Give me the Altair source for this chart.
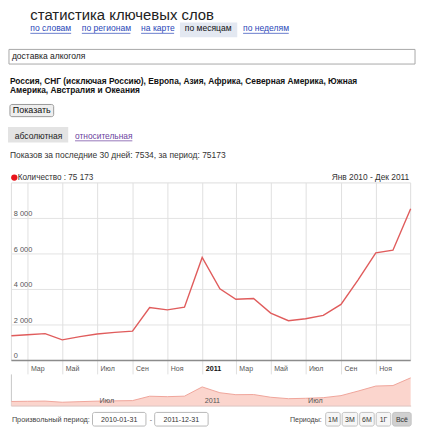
import altair as alt
import pandas as pd

# ---------------- data ----------------
months = ["2010-01", "2010-02", "2010-03", "2010-04", "2010-05", "2010-06",
          "2010-07", "2010-08", "2010-09", "2010-10", "2010-11", "2010-12",
          "2011-01", "2011-02", "2011-03", "2011-04", "2011-05", "2011-06",
          "2011-07", "2011-08", "2011-09", "2011-10", "2011-11", "2011-12"]
counts = [1390, 1450, 1510, 1160, 1340, 1490, 1580, 1650, 2980, 2850, 3000, 5800,
          4040, 3450, 3490, 2670, 2240, 2350, 2540, 3160, 4540, 6060, 6210, 8540]
grid_dates = ["2010-03-01", "2010-05-01", "2010-07-01", "2010-09-01", "2010-11-01",
              "2011-01-01", "2011-03-01", "2011-05-01", "2011-07-01", "2011-09-01",
              "2011-11-01"]
grid_labels = ["Мар", "Май", "Июл", "Сен", "Ноя", "2011", "Мар", "Май", "Июл", "Сен", "Ноя"]
y_ticks = [0, 2000, 4000, 6000, 8000]
y_labels = ["0", "2 000", "4 000", "6 000", "8 000"]
nav_dates = ["2010-07-01", "2011-01-01", "2011-07-01"]
nav_labels = ["Июл", "2011", "Июл"]
period_start = "2010-01-31"
period_end = "2011-12-31"

title_text = "статистика ключевых слов"
tabs = ["по словам", "по регионам", "на карте", "по месяцам", "по неделям"]
query = "доставка алкоголя"
region_lines = ["Россия, СНГ (исключая Россию), Европа, Азия, Африка, Северная Америка, Южная",
                "Америка, Австралия и Океания"]
show_btn = "Показать"
modes = ["абсолютная", "относительная"]
summary = "Показов за последние 30 дней: 7534, за период: 75173"
legend_text = "Количество : 75 173"
range_text = "Янв 2010 - Дек 2011"
custom_label = "Произвольный период:"
periods_label = "Периоды:"
periods = ["1М", "3М", "6М", "1Г", "Всё"]

# ---------------- layout helpers ----------------
FONT = "Liberation Sans"
W, H = 408, 420
SX = 408 / 420
SY = 420 / 431
X0, Y0 = 1, 5


def cx(X):
    return (X - X0) * SX


def cy(Y):
    return (Y - Y0) * SY


def fs(s):
    return s * SX


one = pd.DataFrame({"k": [0]})


def txt(s, X, Y, size, color="#222222", weight="normal", align="left"):
    return alt.Chart(one).mark_text(
        text=s, font=FONT, fontSize=fs(size), fontWeight=weight, color=color,
        align=align, baseline="alphabetic"
    ).encode(x=alt.value(cx(X)), y=alt.value(cy(Y)))


def box(X1, X2, Y1, Y2, fill, stroke="transparent", radius=0, sw=1):
    return alt.Chart(one).mark_rect(
        fill=fill, stroke=stroke, strokeWidth=sw, cornerRadius=radius
    ).encode(x=alt.value(cx(X1)), x2=alt.value(cx(X2)),
             y=alt.value(cy(Y1)), y2=alt.value(cy(Y2)))


def hline(X1, X2, Y, color, sw=1):
    return alt.Chart(one).mark_rule(color=color, strokeWidth=sw).encode(
        x=alt.value(cx(X1)), x2=alt.value(cx(X2)), y=alt.value(cy(Y)))


def vline(X, Y1, Y2, color, sw=1):
    return alt.Chart(one).mark_rule(color=color, strokeWidth=sw).encode(
        x=alt.value(cx(X)), y=alt.value(cy(Y1)), y2=alt.value(cy(Y2)))


# ---------------- tables ----------------
start = pd.Timestamp(period_start)
end = pd.Timestamp(period_end)
total_days = (end - start).days
month_end_days = [(pd.Period(m, freq="M").end_time.normalize() - start).days for m in months]
df_line = pd.DataFrame({"day": month_end_days, "count": counts})
df_grid = pd.DataFrame({"day": [(pd.Timestamp(d) - start).days for d in grid_dates],
                        "lab": grid_labels})
df_y = pd.DataFrame({"v": y_ticks, "lab": y_labels})
df_nav = pd.DataFrame({"day": [(pd.Timestamp(d) - start).days for d in nav_dates],
                       "lab": nav_labels})

xs = alt.Scale(domain=[0, total_days], range=[cx(4.5), cx(415.5)])
ys = alt.Scale(domain=[0, 10000], range=[cy(366.7), cy(184.5)])
nys = alt.Scale(domain=[0, 8700], range=[cy(413.5), cy(384)])

LINK = "#2b47b8"
VISITED = "#6b3f9e"
layers = []

# ---- header ----
layers.append(box(178, 237, 20, 35, "#e3e8f1"))
layers.append(txt(title_text, 24, 17, 15.3, "#222222"))
tab_x = [24, 77, 138, 183, 243]
tab_end = [66, 127, 172, 232, 290]
for i, t in enumerate(tabs):
    if i == 3:
        layers.append(txt(t, tab_x[i], 29, 8.8, "#111111"))
    else:
        layers.append(txt(t, tab_x[i], 29, 8.8, LINK))
        layers.append(hline(tab_x[i], tab_end[i], 31, LINK, 0.7))

# ---- query box ----
layers.append(box(2, 420, 47.5, 62.5, "#ffffff", "#a9a9a9"))
layers.append(txt(query, 5, 57.5, 8.8, "#222222"))

# ---- regions ----
layers.append(txt(region_lines[0], 3, 82.7, 8.6, "#111111", "bold"))
layers.append(txt(region_lines[1], 3, 92.3, 8.6, "#111111", "bold"))

# ---- button ----
layers.append(box(3, 48, 104, 116.5, "#eeeeee", "#9a9a9a", 2))
layers.append(txt(show_btn, 25.5, 112.7, 9.2, "#111111", align="center"))

# ---- mode switch ----
layers.append(box(0, 63, 127, 143, "#e3e3e3"))
layers.append(txt(modes[0], 8, 139.3, 8.8, "#222222"))
layers.append(txt(modes[1], 70, 139.3, 8.6, VISITED))
layers.append(hline(70, 129, 141.3, VISITED, 0.7))

# ---- summary ----
layers.append(txt(summary, 3, 159.3, 8.7, "#333333"))

# ---- legend ----
layers.append(alt.Chart(one).mark_circle(color="#e8141b", opacity=1, size=40).encode(
    x=alt.value(cx(7.5)), y=alt.value(cy(179))))
layers.append(txt(legend_text, 11, 181.7, 8.4, "#333333"))
layers.append(txt(range_text, 414, 181.7, 8.6, "#333333", align="right"))

# ---- chart frame & grid ----
layers.append(box(4.5, 415.5, 184.5, 366.7, "#ffffff", "#dddddd"))
layers.append(alt.Chart(df_y).transform_filter("datum.v > 0").mark_rule(
    color="#e3e3e3").encode(
    y=alt.Y("v:Q", scale=ys, axis=None),
    x=alt.value(cx(4.5)), x2=alt.value(cx(415.5))))
layers.append(alt.Chart(df_grid).mark_rule(color="#e0e0e0").encode(
    x=alt.X("day:Q", scale=xs, axis=None),
    y=alt.value(cy(184.5)), y2=alt.value(cy(381))))
layers.append(alt.Chart(df_y).transform_filter("datum.v == 0").mark_rule(
    color="#8c8c8c", strokeWidth=1.5).encode(
    y=alt.Y("v:Q", scale=ys, axis=None),
    x=alt.value(cx(4.5)), x2=alt.value(cx(415.5))))
layers.append(alt.Chart(df_y).mark_text(
    font=FONT, fontSize=fs(7.6), color="#555555", align="left",
    baseline="alphabetic", dy=-2.3 * SY).encode(
    y=alt.Y("v:Q", scale=ys, axis=None), x=alt.value(cx(7)), text="lab:N"))

# ---- data line ----
layers.append(alt.Chart(df_line).mark_line(color="#e05c5c", strokeWidth=1.4).encode(
    x=alt.X("day:Q", scale=xs, axis=None),
    y=alt.Y("count:Q", scale=ys, axis=None)))

# ---- x labels ----
layers.append(alt.Chart(df_grid).transform_filter("datum.lab != '2011'").mark_text(
    font=FONT, fontSize=fs(7.2), color="#555555", align="left",
    baseline="alphabetic", dx=3 * SX).encode(
    x=alt.X("day:Q", scale=xs, axis=None), y=alt.value(cy(377.7)), text="lab:N"))
layers.append(alt.Chart(df_grid).transform_filter("datum.lab == '2011'").mark_text(
    font=FONT, fontSize=fs(7.4), color="#111111", fontWeight="bold", align="left",
    baseline="alphabetic", dx=3 * SX).encode(
    x=alt.X("day:Q", scale=xs, axis=None), y=alt.value(cy(377.7)), text="lab:N"))

# ---- navigator ----
layers.append(vline(4.5, 381, 413.5, "#c8c8c8"))
layers.append(alt.Chart(df_line).mark_area(
    color="#fbd5cd", opacity=1,
    line=alt.OverlayMarkDef(color="#f0a69c", strokeWidth=1)).encode(
    x=alt.X("day:Q", scale=xs, axis=None),
    y=alt.Y("count:Q", scale=nys, axis=None),
    y2=alt.value(cy(413.5))))
layers.append(hline(4.5, 416, 413.5, "#dcc4c0"))
layers.append(alt.Chart(df_nav).mark_text(
    font=FONT, fontSize=fs(7.4), color="#555555", align="left",
    baseline="alphabetic", dx=2 * SX).encode(
    x=alt.X("day:Q", scale=xs, axis=None), y=alt.value(cy(410.3)), text="lab:N"))

# ---- footer ----
layers.append(txt(custom_label, 5, 430, 7.5, "#444444"))
layers.append(box(88, 143, 420, 434, "#ffffff", "#b8b8b8", 2))
layers.append(txt(period_start, 115.5, 430, 7.3, "#333333", align="center"))
layers.append(txt("-", 148, 430, 7.3, "#666666", align="center"))
layers.append(box(152, 207, 420, 434, "#ffffff", "#b8b8b8", 2))
layers.append(txt(period_end, 179.5, 430, 7.3, "#333333", align="center"))
layers.append(txt(periods_label, 324, 430, 7.3, "#444444", align="right"))
btn_x = [(328, 343), (345, 361), (363, 378), (380, 395), (397, 416)]
for i, p in enumerate(periods):
    a, b = btn_x[i]
    fill = "#d0d0d0" if i == len(periods) - 1 else "#f6f6f6"
    layers.append(box(a, b, 420, 434, fill, "#c2c2c2", 2))
    layers.append(txt(p, (a + b) / 2, 430, 7.2, "#333333", align="center"))

chart = alt.layer(*layers).resolve_scale(x="independent", y="independent").properties(
    width=W, height=H, autosize=alt.AutoSizeParams(type="none"), padding=0,
    background="#ffffff"
).configure_view(strokeWidth=0)

chart.save("out.html", embed_options={"renderer": "svg", "actions": False})
